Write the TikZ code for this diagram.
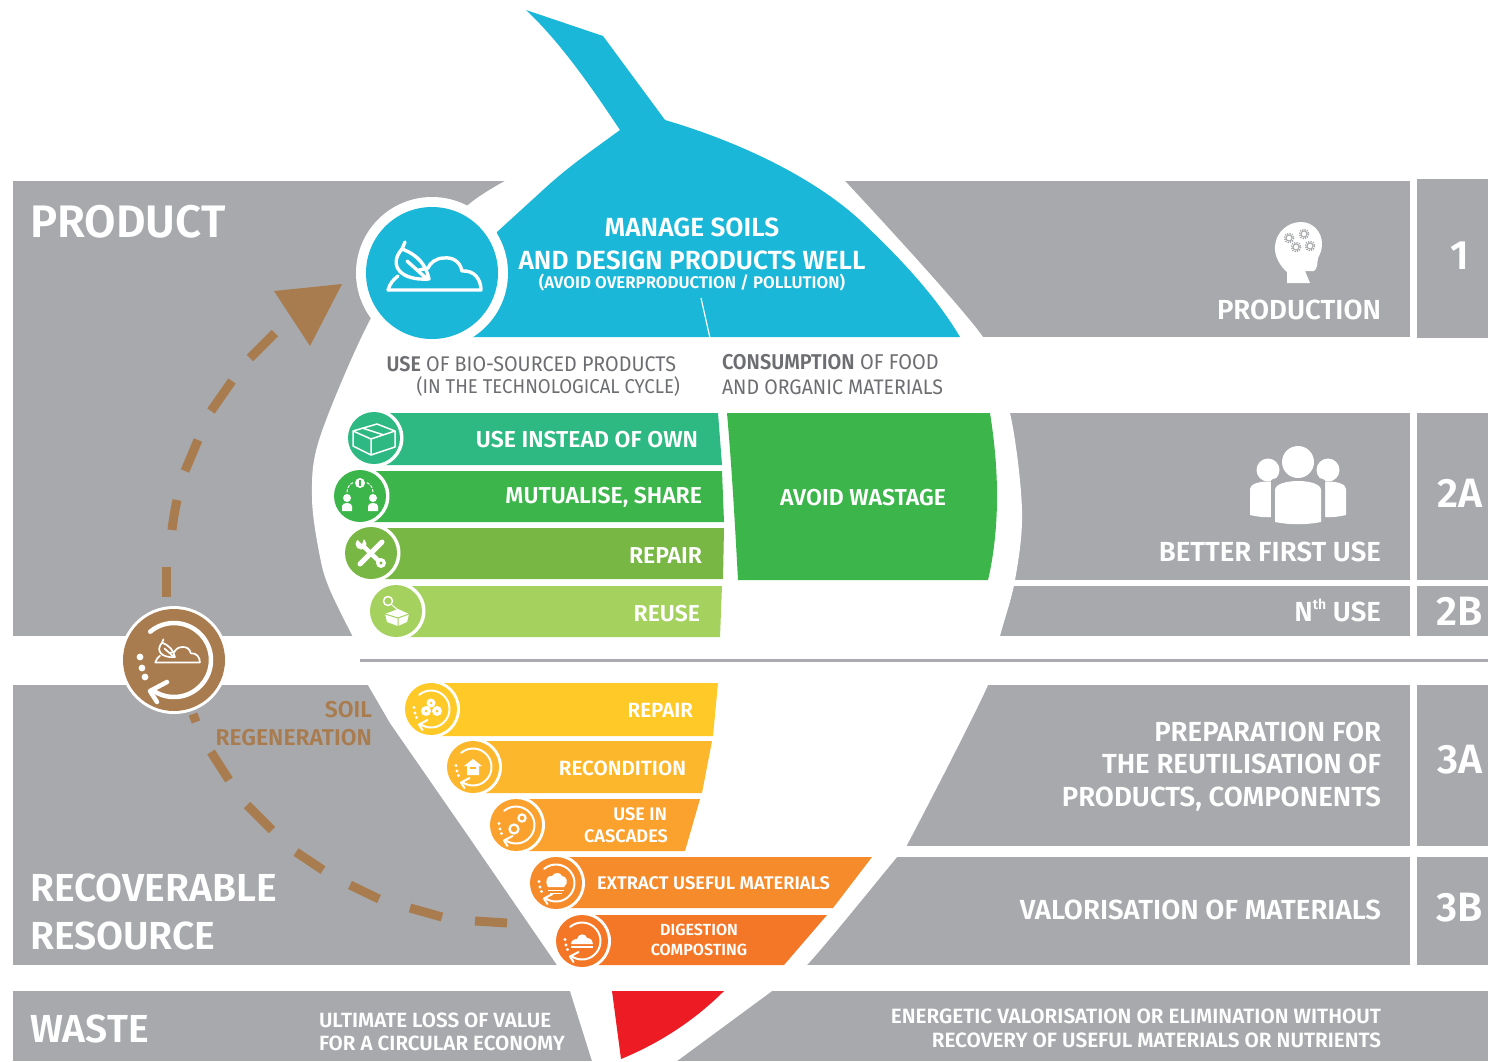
\documentclass[tikz,border=0pt]{standalone}
\usepackage{fontspec}
\setmainfont{Fira Sans}
\newfontfamily\mf{Fira Sans SemiBold}
\newfontfamily\rf[FakeStretch=0.93]{Fira Sans}
\newfontfamily\rb[FakeStretch=0.93]{Fira Sans SemiBold}
\definecolor{panel}{HTML}{A7A9AC}
\definecolor{rule}{HTML}{A9ABAE}
\definecolor{dtext}{HTML}{6D6E71}
\definecolor{brownc}{HTML}{A97C50}
\definecolor{bluec}{HTML}{1AB7D9}
\definecolor{g1}{HTML}{2DB981}
\definecolor{g2}{HTML}{3CB54A}
\definecolor{g3}{HTML}{78B744}
\definecolor{g4}{HTML}{A5D15F}
\definecolor{y1}{HTML}{FFC928}
\definecolor{y2}{HTML}{FDB72D}
\definecolor{y3}{HTML}{FBA12D}
\definecolor{o1}{HTML}{F68B2B}
\definecolor{o2}{HTML}{F47727}
\definecolor{redc}{HTML}{ED1C24}
\tikzset{
  tx/.style={inner sep=0pt,outer sep=0pt,text=white,font=\mf\fontsize{#1}{#1}\selectfont},
  grtx/.style={inner sep=0pt,outer sep=0pt,text=dtext,font=\rf\fontsize{#1}{#1}\selectfont},
  brtx/.style={inner sep=0pt,outer sep=0pt,text=brownc,font=\mf\fontsize{#1}{#1}\selectfont},
  pan/.style={fill=panel},
  ico/.style={draw=white,line cap=round,line join=round},
  dashseg/.style={draw=brownc,line width=9pt},
}
% soil + leaf + cloud line icon, centred on 0,0
\newcommand\soilicon[1]{%
  \draw[ico,line width=#1pt]
    (-44,17) -- (49,17) .. controls (49,6) and (42,-3) .. (30,-2)
    .. controls (28,-12) and (20,-16) .. (12,-15)
    .. controls (4,-15) and (-2,-10) .. (-4,-5) -- (-13,-3);
  \draw[ico,line width=#1pt]
    (-30,-24) .. controls (-44,-8) and (-32,8) .. (-3,6)
    .. controls (-6,-8) and (-14,-18) .. (-30,-24)
    (-30,-24) -- (-27,-31)
    (-25,-12) -- (-6,5)
    (-44,17) .. controls (-42,10) and (-38,6) .. (-34,3);
}
% return ring with dots, radius 37 before scaling
\newcommand\ringicon[1]{%
  \draw[ico,line width=#1pt] (-130:37) arc[start angle=-130,end angle=125,radius=37];
  \draw[ico,line width=#1pt] (-7,22) -- (-24,31) -- (-17,42);
  \fill[white] (-34,-3) circle[radius=3.4] (-32,8) circle[radius=3.4] (-29,17) circle[radius=3.4];
}
\begin{document}
\begin{tikzpicture}[x=1pt,y=-1pt]
\useasboundingbox (0,0) rectangle (1488,1061);
% grey panels
\fill[pan] (13,181) rectangle (700,636);
\fill[pan] (700,181) rectangle (1410,337);
\fill[pan] (1000,413) rectangle (1410,580);
\fill[pan] (990,586) rectangle (1410,636);
\fill[pan] (13,685) rectangle (600,965);
\fill[pan] (880,685) rectangle (1410,846);
\fill[pan] (780,857) rectangle (1410,965);
\fill[pan] (13,991) rectangle (1488,1061);
\fill[pan] (1417,179) rectangle (1488,338);
\fill[pan] (1417,413) rectangle (1488,580);
\fill[pan] (1417,586) rectangle (1488,636);
\fill[pan] (1417,685) rectangle (1488,846);
\fill[pan] (1417,857) rectangle (1488,965);
% white teardrop body
\fill[white] (505,170)
  -- plot[smooth,tension=.55] coordinates {(505,181) (468,205) (415,258) (370,320) (320,437) (312,497) (320,557) (330,590) (353,637)}
  -- (368,685) -- (390,723) -- (469,837) -- (557,965) -- (570,991) -- (592,1061)
  -- plot[smooth,tension=.55] coordinates {(677,1061) (772,991) (807,965) (897,857) (907,845) (988,685) (1000,636) (1015,580) (1022,510) (1010,413) (983,337) (845,181)}
  -- (845,170) -- cycle;
\fill[white] (350,637) rectangle (1015,685);
% separator
\draw[rule,line width=3pt] (360,660) -- (1488,660);
% blue drop
\fill[bluec] (526,10) -- (603,36) -- (665,120)
  .. controls (740,142) and (815,178) .. (862,222)
  .. controls (900,258) and (935,295) .. (960,337)
  -- (470,337) -- (497,232) -- (543,190)
  .. controls (570,165) and (597,147) .. (620,130)
  .. controls (590,85) and (560,42) .. (526,10) -- cycle;
\draw[white,line width=1.2pt] (701,298) -- (710,338);
\fill[white] (432,273) circle[radius=76];
\fill[bluec] (432,273) circle[radius=66];
\begin{scope}[shift={(432,273)}]\soilicon{3.4}\end{scope}
% top texts
\node[tx=26.3,anchor=base] (manage) at (692,236) {MANAGE SOILS};
\node[tx=26.3,anchor=base] (design) at (692,269) {AND DESIGN PRODUCTS WELL};
\node[tx=16.9,anchor=base] (avoidover) at (692,288) {(AVOID OVERPRODUCTION / POLLUTION)};
\node[grtx=21.2,anchor=base east] (usebio) at (676,371) {{\rb USE} OF BIO-SOURCED PRODUCTS};
\node[grtx=20,anchor=base east] (intech) at (680,393) {(IN THE TECHNOLOGICAL CYCLE)};
\node[grtx=21.4,anchor=base west] (consum) at (722,369) {{\rb CONSUMPTION} OF FOOD};
\node[grtx=21,anchor=base west] (organic) at (722,394) {AND ORGANIC MATERIALS};
% green bars
\fill[g1] (374,413) -- (718,413) -- (722,465) -- (374,465) -- cycle;
\fill[g2] (360,471) -- (722,471) -- (724,522) -- (360,522) -- cycle;
\fill[g3] (371,528) -- (724,528) -- (723,579) -- (371,579) -- cycle;
\fill[g4] (396,586) -- (722,586) -- (720,637) -- (396,637) -- cycle;
\fill[white] (374,438) circle[radius=29.5];
\fill[g1] (374,438) circle[radius=26];
\fill[white] (360,496) circle[radius=29.5];
\fill[g2] (360,496) circle[radius=26];
\fill[white] (371,553) circle[radius=29.5];
\fill[g3] (371,553) circle[radius=26];
\fill[white] (396,611) circle[radius=29.5];
\fill[g4] (396,611) circle[radius=26];
% avoid wastage
\fill[g2] (727,413) -- (990,413) .. controls (995,445) and (997,470) .. (997,497)
  .. controls (997,525) and (994,555) .. (988,580) -- (738,580) .. controls (735,525) and (732,470) .. (727,413) -- cycle;
\node[tx=23,anchor=base east] (useinst) at (698,447) {USE INSTEAD OF OWN};
\node[tx=23,anchor=base east] (mutual) at (702,503) {MUTUALISE, SHARE};
\node[tx=23,anchor=base east] (repairA) at (702,563) {REPAIR};
\node[tx=23,anchor=base east] (reuse) at (700,621) {REUSE};
\node[tx=23,anchor=base] (avoidw) at (863,505) {AVOID WASTAGE};
% green icons
\begin{scope}[shift={(374,438)}]
  \draw[ico,line width=1.5pt] (-21,-7) -- (3,-14) -- (21,-7) -- (21,9) -- (-3,17) -- (-21,8) -- cycle
    (-21,-7) -- (-3,1) -- (21,-7) (-3,1) -- (-3,17) (-12,-10) -- (10,-3);
\end{scope}
\begin{scope}[shift={(360,496)}]
  \fill[white] (-13,2) circle[radius=4] (13,2) circle[radius=4] (0,-13) circle[radius=5];
  \fill[g2] (-1,-16) rectangle (1,-10);
  \fill[white] (-18,15) -- (-18,10) .. controls (-18,6) and (-8,6) .. (-8,10) -- (-8,15) -- cycle;
  \fill[white] (8,15) -- (8,10) .. controls (8,6) and (18,6) .. (18,10) -- (18,15) -- cycle;
  \draw[ico,line width=1pt,dash pattern=on 2.5pt off 2pt] (-13,-4) .. controls (-13,-9) and (-10,-12) .. (-6,-14);
  \draw[ico,line width=1pt,dash pattern=on 2.5pt off 2pt] (13,-4) .. controls (13,-9) and (10,-12) .. (6,-14);
\end{scope}
\begin{scope}[shift={(371,553)}]
  \draw[ico,line width=4.5pt] (-9,-8) -- (10,10);
  \fill[white] (-10,-9) circle[radius=5.5] (10,10) circle[radius=5];
  \fill[g3] (-16,-16) -- (-9,-9) -- (-7,-15) -- cycle;
  \fill[g3] (10,10) circle[radius=1.7];
  \draw[ico,line width=5pt] (11,-11) -- (-11,11);
\end{scope}
\begin{scope}[shift={(396,611)}]
  \draw[ico,line width=1.5pt] (-8,-10) circle[radius=4.5];
  \draw[ico,line width=1pt] (-4,-6) -- (2,-1);
  \fill[white] (-11,3) -- (2,-2) -- (13,3) -- (11,11) -- (2,15) -- (-9,11) -- cycle;
  \draw[g4,line width=1pt] (-11,3) -- (2,7) -- (13,3) (2,7) -- (2,15);
\end{scope}
% right icons
\begin{scope}[shift={(1298,252)}]
  \fill[white] (-11,31) -- (-11,20) .. controls (-18,14) and (-24,4) .. (-23,-6)
    .. controls (-22,-20) and (-10,-30) .. (3,-30)
    .. controls (15,-30) and (24,-20) .. (24,-8)
    .. controls (24,-2) and (22,2) .. (20,6)
    .. controls (19,11) and (20,16) .. (16,19)
    -- (7,19) -- (12,31) -- cycle;
  \foreach \p in {(-9,-14),(6,-18),(-2,-5),(12,-6)}{
    \draw[panel,line width=1pt] \p circle[radius=3];
    \draw[panel,line width=1.6pt,dash pattern=on 1.2pt off 1.2pt] \p circle[radius=4.6];
  }
\end{scope}
\begin{scope}[shift={(1298,485)}]
  \fill[white] (-30,-15) circle[radius=11.5] (30,-15) circle[radius=11.5];
  \fill[white] (-48,30) -- (-48,4) .. controls (-48,-6) and (-12,-6) .. (-12,4) -- (-12,30)
    .. controls (-25,33) and (-35,33) .. (-48,30) -- cycle;
  \fill[white] (48,30) -- (48,4) .. controls (48,-6) and (12,-6) .. (12,4) -- (12,30)
    .. controls (25,33) and (35,33) .. (48,30) -- cycle;
  \fill[panel] (0,-23) circle[radius=19];
  \fill[panel] (-27,-4) .. controls (-27,-10) and (27,-10) .. (27,-4) -- (27,38) -- (-27,38) -- cycle;
  \fill[white] (0,-23) circle[radius=16];
  \fill[white] (-23,37) -- (-23,5) .. controls (-23,-7) and (23,-7) .. (23,5) -- (23,37)
    .. controls (8,40) and (-8,40) .. (-23,37) -- cycle;
\end{scope}
% right labels
\node[tx=27.6,anchor=base east] (production) at (1381,319) {PRODUCTION};
\node[tx=27.6,anchor=base east] (better) at (1381,561) {BETTER FIRST USE};
\node[tx=27.6,anchor=base east] (nth) at (1381,621) {N\raisebox{.42em}{\fontsize{14}{14}\selectfont th} USE};
\node[tx=27.6,anchor=base east] (prep) at (1381,741) {PREPARATION FOR};
\node[tx=27.6,anchor=base east] (reut) at (1381,773) {THE REUTILISATION OF};
\node[tx=27.6,anchor=base east] (prod) at (1381,806) {PRODUCTS, COMPONENTS};
\node[tx=27.6,anchor=base east] (valor) at (1381,919) {VALORISATION OF MATERIALS};
\node[tx=20.7,anchor=base east] (energ) at (1381,1023) {ENERGETIC VALORISATION OR ELIMINATION WITHOUT};
\node[tx=20.7,anchor=base east] (recov) at (1381,1047) {RECOVERY OF USEFUL MATERIALS OR NUTRIENTS};
\node[tx=41,anchor=base] (num1) at (1460,269) {1};
\node[tx=41,anchor=base] (num2a) at (1460,507) {2A};
\node[tx=41,anchor=base] (num2b) at (1460,625) {2B};
\node[tx=41,anchor=base] (num3a) at (1460,773) {3A};
\node[tx=41,anchor=base] (num3b) at (1460,921) {3B};
% left labels
\node[tx=45.6,anchor=base west] (product) at (30,237) {PRODUCT};
\node[tx=39.1,anchor=base west] (recover) at (30,901) {RECOVERABLE};
\node[tx=39.1,anchor=base west] (resource) at (30,949) {RESOURCE};
\node[tx=39.1,anchor=base west] (waste) at (30,1042) {WASTE};
\node[tx=20.6,anchor=base west] (ultimate) at (319,1027) {ULTIMATE LOSS OF VALUE};
\node[tx=20.6,anchor=base west] (forcirc) at (319,1050) {FOR A CIRCULAR ECONOMY};
\node[brtx=22.9,anchor=base east] (soil) at (372,717) {SOIL};
\node[brtx=22.9,anchor=base east] (regen) at (372,745) {REGENERATION};
% lower bars
\fill[y1] (431,683) -- (718,683) -- (713,736) -- (431,736) -- cycle;
\fill[y2] (473,741) -- (712,741) -- (702,793) -- (473,793) -- cycle;
\fill[y3] (516,799) -- (700,799) -- (685,851) -- (516,851) -- cycle;
\fill[o1] (556,857) -- (872,857) -- (833,908) -- (556,908) -- cycle;
\fill[o2] (582,915) -- (827,915) -- (784,965) -- (582,965) -- cycle;
\fill[white] (431,709) circle[radius=29];
\fill[y1] (431,709) circle[radius=26];
\fill[white] (473,767) circle[radius=29];
\fill[y2] (473,767) circle[radius=26];
\fill[white] (516,825) circle[radius=29];
\fill[y3] (516,825) circle[radius=26];
\fill[white] (556,883) circle[radius=29];
\fill[o1] (556,883) circle[radius=26];
\fill[white] (582,941) circle[radius=29];
\fill[o2] (582,941) circle[radius=26];
\begin{scope}[shift={(431,709)}]
  \begin{scope}[scale=.5]\ringicon{2}\end{scope}
  \fill[white] (-5,2) circle[radius=5] (6,2) circle[radius=5] (0,-6) circle[radius=4.5];
  \fill[y1] (-5,2) circle[radius=1.5] (6,2) circle[radius=1.5] (0,-6) circle[radius=1.3];
\end{scope}
\begin{scope}[shift={(473,767)}]
  \begin{scope}[scale=.5]\ringicon{2}\end{scope}
  \fill[white] (-9,-1) -- (0,-8) -- (9,-1) -- (6,-1) -- (6,8) -- (-6,8) -- (-6,-1) -- cycle;
  \fill[y2] (-3,0) rectangle (3,2);
\end{scope}
\begin{scope}[shift={(516,825)}]
  \begin{scope}[scale=.5]\ringicon{2}\end{scope}
  \draw[white,line width=2.2pt] (-2,4) circle[radius=4.5] (6,-7) circle[radius=3.6];
\end{scope}
\begin{scope}[shift={(556,883)}]
  \begin{scope}[scale=.5]\ringicon{2}\end{scope}
  \fill[white] (-8,4) .. controls (-12,-3) and (-8,-8) .. (-4,-7) .. controls (-2,-11) and (5,-11) .. (6,-7)
    .. controls (11,-7) and (13,0) .. (8,4) -- cycle;
  \draw[white,line width=1pt] (-8,7) -- (8,7) (-6,10) -- (6,10);
\end{scope}
\begin{scope}[shift={(582,941)}]
  \begin{scope}[scale=.5]\ringicon{2}\end{scope}
  \fill[white] (-11,3) .. controls (-11,-1) and (-7,-2) .. (-5,-2) .. controls (-4,-8) and (4,-8) .. (5,-3)
    .. controls (9,-3) and (11,0) .. (11,3) -- cycle;
  \fill[white] (-11,5) rectangle (11,7);
\end{scope}
\node[tx=20.6,anchor=base east] (repairB) at (693,717) {REPAIR};
\node[tx=20.6,anchor=base east] (recond) at (686,775) {RECONDITION};
\node[tx=18.2,anchor=base east] (usein) at (667,820) {USE IN};
\node[tx=18.2,anchor=base east] (casc) at (668,842) {CASCADES};
\node[tx=18.3,anchor=base west] (extract) at (597,889) {EXTRACT USEFUL MATERIALS};
\node[tx=16.1,anchor=base] (digest) at (699,935) {DIGESTION};
\node[tx=16.1,anchor=base] (compost) at (699,955) {COMPOSTING};
% red wedge
\fill[redc] (612,991) -- (724,991) .. controls (695,1020) and (660,1043) .. (621,1059) -- cycle;
% brown dashed cycle
\draw[dashseg] (166,597) -- (166,567);
\draw[dashseg] (172,530) .. controls (173,520) and (175,510) .. (177,500);
\draw[dashseg] (185,471) -- (198,440);
\draw[dashseg] (211,411) -- (232,381);
\draw[dashseg] (250,358) -- (275,333);
\draw[dashseg] (193,714) -- (196,722);
\draw[dashseg] (211,752) -- (229,780);
\draw[dashseg] (247,805) -- (272,830);
\draw[dashseg] (296,852) -- (323,870);
\draw[dashseg] (350,885) -- (379,899);
\draw[dashseg] (410,908) -- (442,917);
\draw[dashseg] (475,921) -- (507,923);
\fill[brownc] (274,291) -- (342,284) -- (310,346) -- cycle;
\fill[white] (174,660) circle[radius=54];
\fill[brownc] (174,660) circle[radius=51];
\begin{scope}[shift={(174,660)}]
  \ringicon{4.5}
  \begin{scope}[scale=.48,shift={(5,-12)}]\soilicon{1.7}\end{scope}
\end{scope}
\end{tikzpicture}
\end{document}
